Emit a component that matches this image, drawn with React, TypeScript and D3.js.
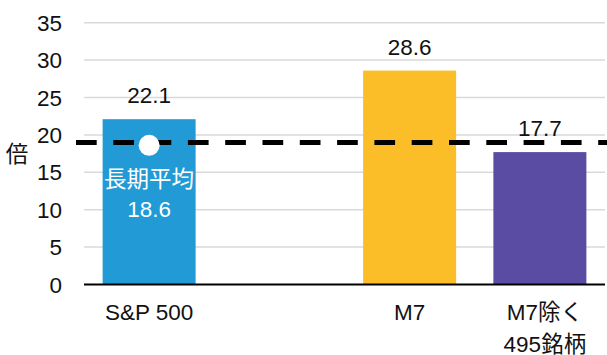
import React from "react";
import * as d3 from "d3";

const categories = ["S&P 500", "", "M7", "M7除く\n495銘柄"];
const values: (number | null)[] = [22.1, null, 28.6, 17.7];
const colors = ["#219AD6", "none", "#FBBE28", "#5A4BA3"];
const yTicks = [0, 5, 10, 15, 20, 25, 30, 35];
const avgValue = 18.6;
const avgLineLevel = 19.0;
const avgLabel = ["長期平均", "18.6"];
const yAxisLabel = "倍";

const W = 607;
const H = 355;
const FS = 22.5;
const FONT = "'Liberation Sans', Arial, 'Noto Sans CJK JP', sans-serif";

export default function App() {
  const x = d3
    .scaleBand<string>()
    .domain(categories.map((_, i) => String(i)))
    .range([84, 605])
    .paddingInner(0.286)
    .paddingOuter(0.143);
  const y = d3.scaleLinear().domain([0, 35]).range([284.5, 22.7]);
  const bw = x.bandwidth();
  const avgX = (x("0") as number) + bw / 2;

  return (
    <svg
      width={W}
      height={H}
      style={{ position: "absolute", left: 0, top: 0, fontFamily: FONT }}
    >
      <rect width={W} height={H} fill="#fff" />
      {yTicks.map((t) => (
        <g key={t}>
          {t > 0 && (
            <line x1={84} x2={605} y1={y(t)} y2={y(t)} stroke="#d9d9d9" strokeWidth={1.5} />
          )}
          <text x={62} y={y(t)} dy="0.36em" textAnchor="end" fontSize={FS} fill="#111">
            {t}
          </text>
        </g>
      ))}
      <text x={17} y={154} dy="0.36em" textAnchor="middle" fontSize={FS} fill="#111">
        {yAxisLabel}
      </text>
      {values.map((v, i) =>
        v == null ? null : (
          <g key={i}>
            <rect
              x={x(String(i))}
              y={y(v)}
              width={bw}
              height={y(0) - y(v)}
              fill={colors[i]}
            />
          </g>
        )
      )}
      <line x1={84} x2={605} y1={y(0)} y2={y(0)} stroke="#000" strokeWidth={2.2} />
      <line
        x1={76}
        x2={607}
        y1={y(avgLineLevel)}
        y2={y(avgLineLevel)}
        stroke="#000"
        strokeWidth={5}
        strokeDasharray="20.7 16.6"
      />
      <circle cx={avgX} cy={y(avgValue)} r={10.5} fill="#fff" />
      {values.map((v, i) =>
        v == null ? null : (
          <text
            key={"v" + i}
            x={(x(String(i)) as number) + bw / 2}
            y={y(v) - 16}
            textAnchor="middle"
            fontSize={FS}
            fill="#111"
          >
            {v.toFixed(1)}
          </text>
        )
      )}
      {avgLabel.map((s, k) => (
        <text key={s} x={avgX} y={186.5 + k * 30} textAnchor="middle" fontSize={FS} fill="#fff">
          {s}
        </text>
      ))}
      {categories.map((c, i) =>
        c === ""
          ? null
          : c.split("\n").map((line, k) => (
              <text
                key={i + "-" + k}
                x={(x(String(i)) as number) + bw / 2 + (c.includes("\n") ? 5 : 0)}
                y={319.5 + k * 32}
                textAnchor="middle"
                fontSize={FS}
                fill="#111"
              >
                {line}
              </text>
            ))
      )}
    </svg>
  );
}
